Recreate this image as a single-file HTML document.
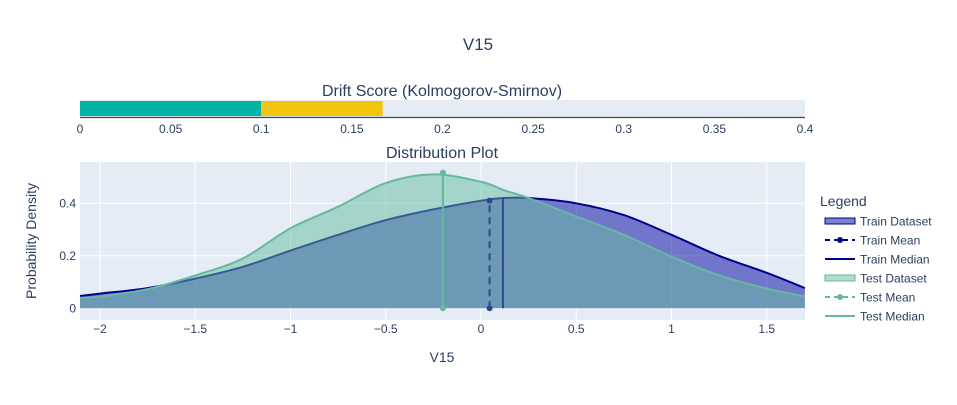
<!DOCTYPE html>
<html><head><meta charset="utf-8"><style>
body{margin:0;background:#fff;font-family:"Liberation Sans",Arial,sans-serif;}
svg text{font-family:"Liberation Sans",Arial,sans-serif;fill:#2a3f5f;}
</style></head><body>
<svg width="957" height="400" xmlns="http://www.w3.org/2000/svg">
<g id="g"></g>
</svg>
<script>
const driftSegStarts=[0,0.1];
const driftSegEnds=[0.1,0.167];
const driftColors=['#00b5a8','#f2c50f'];
const driftTicks=[0,0.05,0.1,0.15,0.2,0.25,0.3,0.35,0.4];
const xs=[-2.12,-2,-1.75,-1.5,-1.25,-1,-0.75,-0.5,-0.25,0,0.12,0.25,0.5,0.75,1,1.25,1.5,1.7];
const trainY=[0.047,0.056,0.077,0.113,0.158,0.22,0.28,0.336,0.377,0.41,0.42,0.42,0.40,0.355,0.28,0.2,0.135,0.077];
const testY=[0.04,0.045,0.073,0.125,0.19,0.305,0.387,0.477,0.51,0.482,0.45,0.42,0.35,0.28,0.197,0.125,0.075,0.045];
const trainMean=0.045, trainMedian=0.115, testMean=-0.2, testMedian=-0.2;
const xTicks=[-2,-1.5,-1,-0.5,0,0.5,1,1.5];
const xTickLabels=['−2','−1.5','−1','−0.5','0','0.5','1','1.5'];
const yTicks=[0,0.2,0.4];
const yTickLabels=['0','0.2','0.4'];

const NS='http://www.w3.org/2000/svg';
const g=document.getElementById('g');
function el(t,a,txt){const e=document.createElementNS(NS,t);for(const k in a)e.setAttribute(k,a[k]);if(txt!=null)e.textContent=txt;g.appendChild(e);return e;}
const X0=80,X1=805;
const dx=v=>X0+(v/0.4)*(X1-X0);
const px=v=>481+v*190.5;
const py=v=>308.3-v*262.5;

let e;
e=el('text',{x:478,y:50,'font-size':17,'text-anchor':'middle'},'V15');


e=el('text',{x:442,y:96,'font-size':16,'text-anchor':'middle'},'Drift Score (Kolmogorov-Smirnov)');


e=el('rect',{x:X0,y:100,width:X1-X0,height:17,fill:'#e5ecf6'});


driftSegStarts.forEach((s,i)=>{
  const r=el('rect',{x:dx(s),y:101,width:dx(driftSegEnds[i])-dx(s),height:15,fill:driftColors[i]});
  
  
});
e=el('line',{x1:X0,x2:X1,y1:117.5,y2:117.5,stroke:'#444','stroke-width':1.2});


driftTicks.forEach(t=>{
  const tx=el('text',{x:dx(t),y:133,'font-size':12,'text-anchor':'middle'},String(t));
  
  
});
e=el('text',{x:442,y:158,'font-size':16,'text-anchor':'middle'},'Distribution Plot');


e=el('rect',{x:X0,y:162,width:X1-X0,height:158,fill:'#e5ecf6'});


xTicks.forEach((t,i)=>{
  const l=el('line',{x1:px(t),x2:px(t),y1:162,y2:320,stroke:'#fff','stroke-width':1});
  
  
  const tx=el('text',{x:px(t),y:333,'font-size':12,'text-anchor':'middle'},xTickLabels[i]);
  
  
});
yTicks.forEach((t,i)=>{
  const l=el('line',{x1:X0,x2:X1,y1:py(t),y2:py(t),stroke:'#fff','stroke-width':t===0?2:1});
  
  
  const tx=el('text',{x:76,y:py(t)+4,'font-size':12,'text-anchor':'end'},yTickLabels[i]);
  
  
});
function clipPts(ys){return xs.map((x,i)=>[Math.max(X0,Math.min(X1,px(x))),py(ys[i])]);}
function smooth(p){let d='M'+p[0][0]+','+p[0][1];for(let i=0;i<p.length-1;i++){const p0=p[i-1]||p[i],p1=p[i],p2=p[i+1],p3=p[i+2]||p2;d+=` C${p1[0]+(p2[0]-p0[0])/6},${p1[1]+(p2[1]-p0[1])/6} ${p2[0]-(p3[0]-p1[0])/6},${p2[1]-(p3[1]-p1[1])/6} ${p2[0]},${p2[1]}`;}return d;}
function series(ys,fill,line,name){
  const p=clipPts(ys);const d=smooth(p);
  const a=el('path',{d:d+` L${p[p.length-1][0]},${py(0)} L${p[0][0]},${py(0)} Z`,fill:fill});
  
  
  const l=el('path',{d:d,fill:'none',stroke:line,'stroke-width':2});
  
  
}
series(trainY,'rgba(0,0,160,0.5)','#00008b','train-dataset');
series(testY,'rgba(102,187,160,0.5)','#66b8a0','test-dataset');
function vline(x,top,color,dash,markers,name){
  const l=el('line',{x1:px(x),x2:px(x),y1:py(0),y2:py(top),stroke:color,'stroke-width':2});
  if(dash)l.setAttribute('stroke-dasharray','7,5');
  
  
  if(markers){[0,top].forEach(v=>{const c=el('circle',{cx:px(x),cy:py(v),r:3,fill:color});
    
    });}
}
vline(trainMedian,0.42,'#2b4a8f',false,false,'train-median-line');
vline(trainMean,0.41,'#2b4a8f',true,true,'train-mean-line');
vline(testMedian,0.517,'#66b8a0',false,false,'test-median-line');
vline(testMean,0.517,'#66b8a0',false,true,'test-mean-line');
e=el('text',{x:442,y:362,'font-size':14,'text-anchor':'middle'},'V15');


e=el('text',{x:36,y:241,'font-size':14,'text-anchor':'middle',transform:'rotate(-90 36 241)'},'Probability Density');


e=el('text',{x:820,y:206,'font-size':14},'Legend');


const legNames=['Train Dataset','Train Mean','Train Median','Test Dataset','Test Mean','Test Median'];
const legColors=['#00008b','#00008b','#00008b','#66b8a0','#66b8a0','#66b8a0'];
legNames.forEach((n,i)=>{
  const y=221+i*19;
  if(i%3===0){const r=el('rect',{x:825,y:y-3,width:30,height:6,fill:i?'rgba(102,187,160,0.5)':'rgba(0,0,160,0.5)',stroke:legColors[i],'stroke-width':1});
    
    }
  else{const l=el('line',{x1:825,x2:855,y1:y,y2:y,stroke:legColors[i],'stroke-width':2});
    if(i%3===1){l.setAttribute('stroke-dasharray','5,4');const c=el('circle',{cx:840,cy:y,r:3,fill:legColors[i]});
      
      }
    
    }
  const t=el('text',{x:860,y:y+4.5,'font-size':12},n);
  
  
});
</script>
</body></html>
